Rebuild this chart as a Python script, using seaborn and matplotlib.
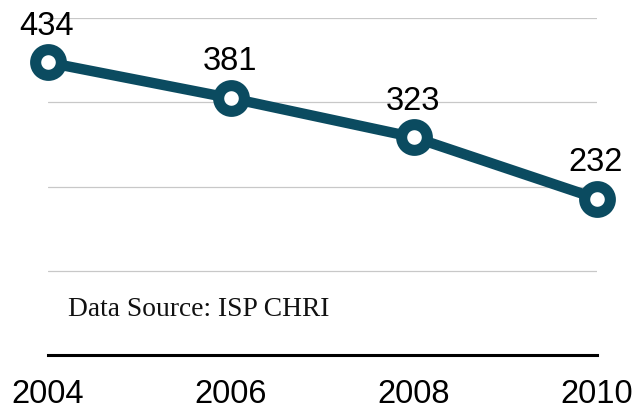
import matplotlib
matplotlib.use("Agg")
import matplotlib.pyplot as plt
import seaborn as sns
import pandas as pd

years = [2004, 2006, 2008, 2010]
counts = [434, 381, 323, 232]
grid_levels = [125, 250, 375, 500]
source_note = "Data Source: ISP CHRI"

line_color = "#0b4b60"

sns.set_theme(style="white")
plt.rcParams['font.family'] = ['Liberation Sans', 'DejaVu Sans']

df = pd.DataFrame({"year": years, "count": counts})

fig = plt.figure(figsize=(6.34, 4.13), dpi=100)
ax = fig.add_axes([48 / 634, 58 / 413, 549 / 634, 337 / 413])

for level in grid_levels:
    ax.axhline(level, color="#c8c8c8", linewidth=0.9, zorder=0)

sns.lineplot(data=df, x="year", y="count", ax=ax, color=line_color,
             linewidth=7.5, marker="o", markersize=18.5, markeredgewidth=8,
             markerfacecolor="white", markeredgecolor=line_color,
             clip_on=False, zorder=3)

for x, y in zip(years, counts):
    ax.annotate(str(y), (x, y), xytext=(-1, 20), textcoords="offset points",
                ha="center", va="baseline", fontsize=23.5, color="black")

ax.set_xlim(2004, 2010)
ax.set_ylim(0, 500)
ax.set_xticks(years)
ax.set_xticklabels([str(y) for y in years])
ax.set_yticks([])
ax.set_xlabel("")
ax.set_ylabel("")
ax.tick_params(axis="x", length=0, pad=17, labelsize=23.5, colors="black")

for side in ["top", "left", "right"]:
    ax.spines[side].set_visible(False)
ax.spines["bottom"].set_color("black")
ax.spines["bottom"].set_linewidth(2.2)

fig.text(68 / 634, 1 - 310 / 413, source_note, family="Liberation Serif",
         fontsize=19.8, va="center", ha="left", color="#111111")

fig.savefig("out.png", dpi=100)
